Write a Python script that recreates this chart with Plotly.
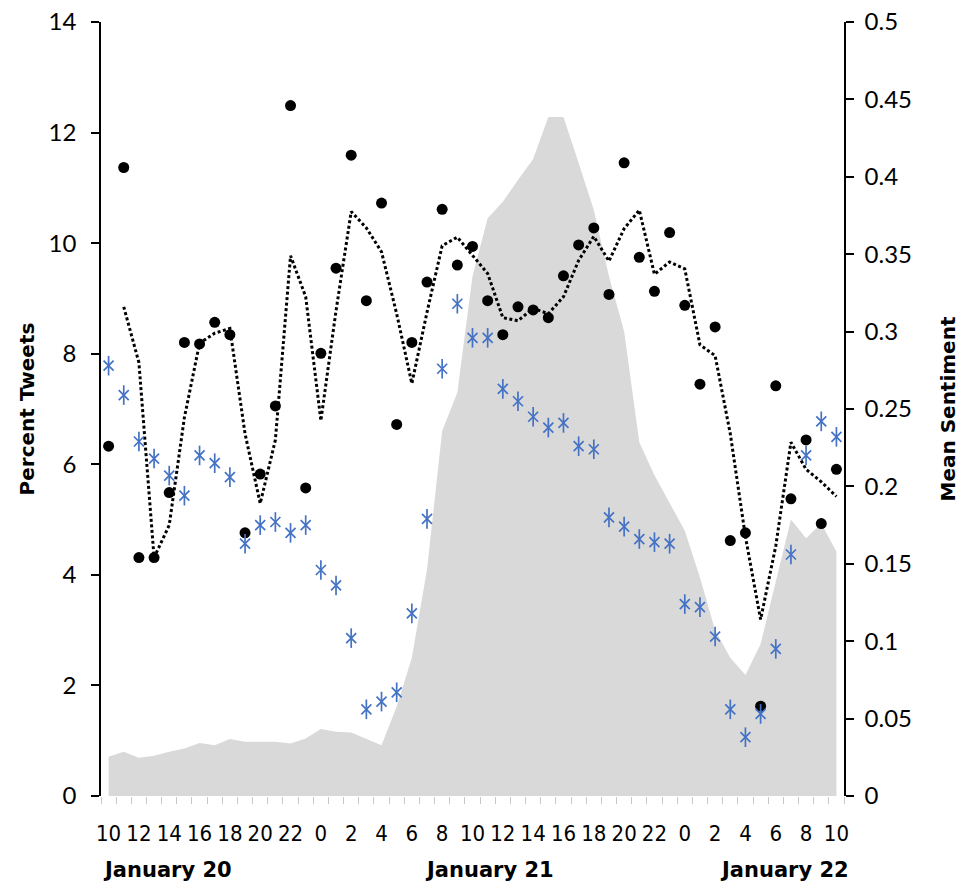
import plotly.graph_objects as go

# hour-of-day for each hourly category (Jan 20 10:00 -> Jan 22 10:00)
hours = [10, 11, 12, 13, 14, 15, 16, 17, 18, 19, 20, 21, 22, 23,
         0, 1, 2, 3, 4, 5, 6, 7, 8, 9, 10, 11, 12, 13, 14, 15, 16, 17, 18, 19, 20, 21, 22, 23,
         0, 1, 2, 3, 4, 5, 6, 7, 8, 9, 10]

day_labels = ["January 20", "January 21", "January 22"]
day_label_pos = [3.9, 25.1, 44.6]

# Percent of tweets (grey area, left axis)
percent_tweets = [0.71, 0.80, 0.69, 0.73, 0.80, 0.86, 0.96, 0.92, 1.03, 0.98,
                  0.98, 0.98, 0.95, 1.04, 1.21, 1.16, 1.15, 1.04, 0.92, 1.62,
                  2.50, 4.10, 6.60, 7.30, 9.40, 10.45, 10.75, 11.14, 11.52, 12.28,
                  12.28, 11.45, 10.60, 9.40, 8.40, 6.40, 5.80, 5.30, 4.80, 3.95,
                  3.00, 2.50, 2.19, 2.75, 3.90, 5.00, 4.66, 4.93, 4.42]

# Mean sentiment (black dots, right axis)
mean_sentiment = [0.226, 0.406, 0.154, 0.154, 0.196, 0.293, 0.292, 0.306, 0.298, 0.170,
                  0.208, 0.252, 0.446, 0.199, 0.286, 0.341, 0.414, 0.320, 0.383, 0.240,
                  0.293, 0.332, 0.379, 0.343, 0.355, 0.320, 0.298, 0.316, 0.314, 0.309,
                  0.336, 0.356, 0.367, 0.324, 0.409, 0.348, 0.326, 0.364, 0.317, 0.266,
                  0.303, 0.165, 0.170, 0.058, 0.265, 0.192, 0.230, 0.176, 0.211]

# Second sentiment series (blue asterisks, right axis)
second_series = [0.278, 0.259, 0.229, 0.218, 0.207, 0.194, 0.220, 0.215, 0.206, 0.163,
                 0.175, 0.177, 0.170, 0.175, 0.146, 0.136, 0.102, 0.056, 0.061, 0.067,
                 0.118, 0.179, 0.276, 0.318, 0.296, 0.296, 0.263, 0.255, 0.245, 0.238,
                 0.241, 0.226, 0.224, 0.180, 0.174, 0.166, 0.164, 0.163, 0.124, 0.122,
                 0.103, 0.056, 0.038, 0.053, 0.095, 0.156, 0.220, 0.242, 0.232]

x = list(range(len(hours)))

# 2-period moving average trendline of mean sentiment
ma_x = x[1:]
ma_y = [(mean_sentiment[i - 1] + mean_sentiment[i]) / 2 for i in range(1, len(mean_sentiment))]

tick_idx = [i for i in x if i % 2 == 0]
tick_txt = [str(hours[i]) for i in tick_idx]

BLUE = "#4472c4"

fig = go.Figure()
fig.add_trace(go.Scatter(x=x, y=percent_tweets, mode="lines", fill="tozeroy",
                         fillcolor="#d9d9d9", line=dict(color="#d9d9d9", width=0),
                         yaxis="y", hoverinfo="skip"))
fig.add_trace(go.Scatter(x=x, y=mean_sentiment, mode="markers", yaxis="y2",
                         marker=dict(color="black", size=11)))
fig.add_trace(go.Scatter(x=ma_x, y=ma_y, mode="lines", yaxis="y2",
                         line=dict(color="black", width=3, dash="3px,2.5px")))
fig.add_trace(go.Scatter(x=x, y=second_series, mode="markers", yaxis="y2",
                         marker=dict(symbol="x-thin-open", size=10, color=BLUE,
                                     line=dict(color=BLUE, width=1.7))))
fig.add_trace(go.Scatter(x=x, y=second_series, mode="markers", yaxis="y2",
                         marker=dict(symbol="line-ns-open", size=14, color=BLUE,
                                     line=dict(color=BLUE, width=1.7))))

tick_font = dict(family="DejaVu Sans Condensed, sans-serif", size=22, color="black")
y_font = dict(family="Lato, sans-serif", size=24, color="black")
title_font = dict(family="DejaVu Sans, sans-serif", size=20, color="black")

for lab, pos in zip(day_labels, day_label_pos):
    fig.add_annotation(x=pos, y=-0.0956, xref="x", yref="paper", text="<b>%s</b>" % lab,
                       showarrow=False,
                       font=dict(family="DejaVu Sans, sans-serif", size=21, color="black"),
                       xanchor="center", yanchor="middle")

fig.update_layout(
    width=967, height=888,
    margin=dict(l=101, r=123, t=22, b=92, autoexpand=False),
    paper_bgcolor="white", plot_bgcolor="white",
    showlegend=False,
    xaxis=dict(range=[-0.5, 48.5], showgrid=False, zeroline=False, showline=False,
               automargin=False,
               tickmode="array", tickvals=tick_idx, ticktext=tick_txt, tickangle=0,
               ticks="outside", ticklen=18, tickcolor="rgba(0,0,0,0)",
               tickfont=tick_font,
               minor=dict(ticks="outside", tickmode="linear", tick0=-0.5, dtick=1,
                          ticklen=7, tickcolor="#c8c8c8", tickwidth=1, showgrid=False)),
    yaxis=dict(range=[0, 14], dtick=2, showgrid=False, zeroline=False, automargin=False,
               showline=True, linecolor="black", linewidth=1.5,
               ticks="outside", ticklen=8, tickcolor="black", tickwidth=1.5,
               ticklabelstandoff=10,
               tickfont=y_font,
               title=dict(text="<b>Percent Tweets</b>", standoff=9, font=title_font)),
    yaxis2=dict(range=[0, 0.5], dtick=0.05, overlaying="y", side="right",
                showgrid=False, zeroline=False, automargin=False,
                showline=True, linecolor="black", linewidth=1.5,
                ticks="outside", ticklen=8, tickcolor="black", tickwidth=1.5,
                ticklabelstandoff=6,
                tickfont=y_font,
                title=dict(text="<b>Mean Sentiment</b>", standoff=30, font=title_font)),
)

# remove the default page margin so the figure fills the window exactly
fig.write_html("out.html",
               config={"displayModeBar": False},
               post_script="document.body.style.margin='0';document.body.style.overflow='hidden';")
